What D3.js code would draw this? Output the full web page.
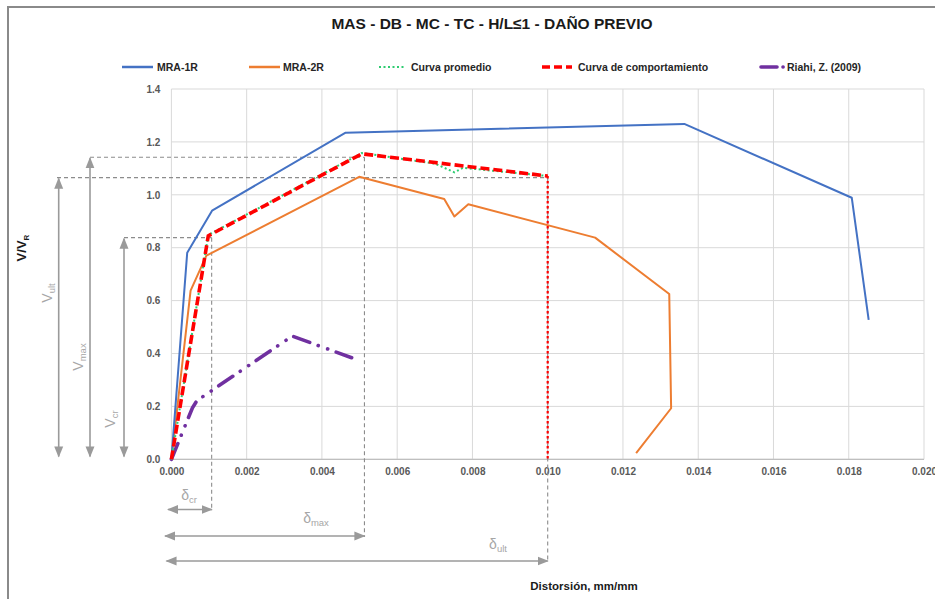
<!DOCTYPE html>
<html><head><meta charset="utf-8">
<script src="https://cdn.jsdelivr.net/npm/d3@7"></script>
<style>body{margin:0;background:#fff}svg{display:block;font-family:"Liberation Sans",Arial,sans-serif}</style>
</head><body><svg id="c" width="935" height="599"></svg>
<script>
const title = "MAS - DB - MC - TC - H/L≤1 - DAÑO PREVIO";
const xTicks = [0,0.002,0.004,0.006,0.008,0.010,0.012,0.014,0.016,0.018,0.020];
const yTicks = [0,0.2,0.4,0.6,0.8,1.0,1.2,1.4];

const mra1rX = [0, 0.00042, 0.00108, 0.00463, 0.01363, 0.01808, 0.01853];
const mra1rY = [0, 0.781, 0.940, 1.235, 1.268, 0.989, 0.527];

const mra2rX = [0, 0.00051, 0.00093, 0.00499, 0.00725, 0.00752, 0.00789, 0.01126, 0.01323, 0.01328, 0.01235];
const mra2rY = [0, 0.638, 0.770, 1.068, 0.984, 0.918, 0.964, 0.838, 0.625, 0.193, 0.023];

const promedioX = [0, 0.00098, 0.00506, 0.0070, 0.00752, 0.00775, 0.0100];
const promedioY = [0, 0.848, 1.158, 1.118, 1.085, 1.102, 1.071];

const comportX = [0, 0.00098, 0.00506, 0.0100, 0.0100];
const comportY = [0, 0.845, 1.155, 1.071, 0];

const riahiX = [0, 0.00056, 0.00068, 0.00321, 0.00479];
const riahiY = [0, 0.195, 0.222, 0.466, 0.384];

// characteristic points (annotations)
const vCr = 0.838, vMax = 1.142, vUlt = 1.065;
const dCr = 0.00107, dMax = 0.00513, dUlt = 0.0100;

const seriesNames = ["MRA-1R","MRA-2R","Curva promedio","Curva de comportamiento","Riahi, Z. (2009)"];

const svg = d3.select("#c");
const L = 171.4, R = 924, T = 89, B = 459.3;
const x = d3.scaleLinear().domain([0,0.020]).range([L,R]);
const y = d3.scaleLinear().domain([0,1.4]).range([B,T]);

// chart border
svg.append("rect").attr("x",8).attr("y",7).attr("width",940).attr("height",600)
  .attr("fill","none").attr("stroke","#8a8a8a").attr("stroke-width",2);

// title
svg.append("text").attr("x",492).attr("y",29).attr("text-anchor","middle")
  .attr("font-size",15.5).attr("font-weight","bold").attr("fill","#1a1a1a").text(title);

// grid
const g = svg.append("g");
g.selectAll(".vg").data(xTicks).join("line").attr("x1",d=>x(d)).attr("x2",d=>x(d))
  .attr("y1",T).attr("y2",B).attr("stroke","#d9d9d9").attr("stroke-width",1);
g.selectAll(".hg").data(yTicks).join("line").attr("x1",L).attr("x2",R)
  .attr("y1",d=>y(d)).attr("y2",d=>y(d)).attr("stroke","#d9d9d9").attr("stroke-width",1);
g.append("line").attr("x1",L).attr("x2",R).attr("y1",B).attr("y2",B).attr("stroke","#bfbfbf").attr("stroke-width",1.2);

// axes labels via d3 axes
const xa = d3.axisBottom(x).tickValues(xTicks).tickFormat(d3.format(".3f")).tickSize(0).tickPadding(9);
const ya = d3.axisLeft(y).tickValues(yTicks).tickFormat(d3.format(".1f")).tickSize(0).tickPadding(11);
const gx = svg.append("g").attr("transform",`translate(0,${B})`).call(xa);
const gy = svg.append("g").attr("transform",`translate(${L},0)`).call(ya);
[gx,gy].forEach(a=>{a.select(".domain").remove();
  a.selectAll("text").attr("font-size",10).attr("font-weight","bold").attr("fill","#595959")
   .attr("font-family","'Liberation Sans',Arial,sans-serif");});

// axis titles
svg.append("text").attr("x",584).attr("y",590).attr("text-anchor","middle")
  .attr("font-size",11.5).attr("font-weight","bold").attr("fill","#1a1a1a").text("Distorsión, mm/mm");
const yt = svg.append("text").attr("transform","translate(26,248) rotate(-90)").attr("text-anchor","middle")
  .attr("font-size",13).attr("font-weight","bold").attr("fill","#1a1a1a");
yt.append("tspan").text("V/V");
yt.append("tspan").attr("font-size",8).attr("dy",3).text("R");

// annotations
const ann = svg.append("g");
const grey = "#9a9a9a";
svg.append("defs").append("marker").attr("id","ah").attr("viewBox","0 0 10 10").attr("refX",9).attr("refY",5)
  .attr("markerWidth",7).attr("markerHeight",7).attr("orient","auto-start-reverse")
  .append("path").attr("d","M0,1 L10,5 L0,9 Z").attr("fill",grey);
const dash = "4,3";
// horizontal dashed guides
[[vMax,90],[vUlt,57],[vCr,124]].forEach(([v,x0],i)=>{
  const xe = i===0? x(dMax) : i===1? x(dUlt) : x(dCr);
  ann.append("line").attr("x1",x0).attr("x2",xe).attr("y1",y(v)).attr("y2",y(v))
    .attr("stroke","#8c8c8c").attr("stroke-width",1.1).attr("stroke-dasharray",dash);
});
// vertical dashed guides
[[dCr,vCr,511],[dMax,vMax,537],[dUlt,vUlt,562]].forEach(([d,v,ye])=>{
  ann.append("line").attr("x1",x(d)).attr("x2",x(d)).attr("y1",y(v)).attr("y2",ye)
    .attr("stroke","#8c8c8c").attr("stroke-width",1.1).attr("stroke-dasharray",dash);
});
// vertical arrows
[[vUlt,58.7],[vMax,90],[vCr,124]].forEach(([v,xx])=>{
  ann.append("line").attr("x1",xx).attr("x2",xx).attr("y1",y(v)+1).attr("y2",456.5)
    .attr("stroke",grey).attr("stroke-width",1.6)
    .attr("marker-start","url(#ah)").attr("marker-end","url(#ah)");
});
// horizontal arrows
[[dCr,509.5,168],[dMax,536,165],[dUlt,561,166.5]].forEach(([d,yy,x0])=>{
  ann.append("line").attr("x1",x0).attr("x2",x(d)).attr("y1",yy).attr("y2",yy)
    .attr("stroke",grey).attr("stroke-width",1.6)
    .attr("marker-start","url(#ah)").attr("marker-end","url(#ah)");
});
function lab(tx, main, sub, rot){
  const t = ann.append("text").attr("transform",tx).attr("text-anchor","middle")
    .attr("fill","#a6a6a6").attr("font-size",14);
  t.append("tspan").text(main);
  t.append("tspan").attr("font-size",9.5).attr("dy",3).text(sub);
}
lab("translate(52,293) rotate(-90)","V","ult");
lab("translate(83,357) rotate(-90)","V","max");
lab("translate(115,419) rotate(-90)","V","cr");
lab("translate(189,500)","δ","cr");
lab("translate(316,523)","δ","max");
lab("translate(498,549)","δ","ult");

// series
const line = d3.line().x(d=>x(d[0])).y(d=>y(d[1]));
const zip = (a,b)=>a.map((v,i)=>[v,b[i]]);
const plot = svg.append("g");
const riahiDash = "17,9,0.1,10,0.1,9";
plot.append("path").datum(zip(riahiX,riahiY)).attr("d",line).attr("fill","none")
  .attr("stroke","#7030A0").attr("stroke-width",3.6).attr("stroke-linecap","round").attr("stroke-dasharray",riahiDash);
plot.append("path").datum(zip(mra2rX,mra2rY)).attr("d",line).attr("fill","none")
  .attr("stroke","#ED7D31").attr("stroke-width",2).attr("stroke-linejoin","round");
plot.append("path").datum(zip(mra1rX,mra1rY)).attr("d",line).attr("fill","none")
  .attr("stroke","#4472C4").attr("stroke-width",2).attr("stroke-linejoin","round");
plot.append("path").datum(zip(promedioX,promedioY)).attr("d",line).attr("fill","none")
  .attr("stroke","#2ecc71").attr("stroke-width",2).attr("stroke-dasharray","2,2.5");
const cp = zip(comportX,comportY);
plot.append("path").datum(cp.slice(0,cp.length-1)).attr("d",line).attr("fill","none")
  .attr("stroke","#FF0000").attr("stroke-width",3.6).attr("stroke-dasharray","9,4");
plot.append("path").datum(cp.slice(cp.length-2)).attr("d",line).attr("fill","none")
  .attr("stroke","#FF0000").attr("stroke-width",2.2).attr("stroke-dasharray","2.5,2.5");

// legend
const leg = svg.append("g");
const legX = [122, 249, 379, 542, 761];
const legTextX = [157, 283, 411, 578, 787];
const styles = [
  {c:"#4472C4",w:2.5,d:null,len:31},
  {c:"#ED7D31",w:2.5,d:null,len:31},
  {c:"#2ecc71",w:2,d:"2,2.5",len:27},
  {c:"#FF0000",w:3.6,d:"8,4",len:30},
  {c:"#7030A0",w:3.6,d:"16,6,0.1,20",len:23}
];
seriesNames.forEach((n,i)=>{
  const s = styles[i];
  leg.append("line").attr("x1",legX[i]).attr("x2",legX[i]+s.len).attr("y1",67).attr("y2",67)
    .attr("stroke",s.c).attr("stroke-width",s.w).attr("stroke-dasharray",s.d)
    .attr("stroke-linecap", i===4?"round":"butt");
  leg.append("text").attr("x",legTextX[i]).attr("y",71).attr("font-size",10.5).attr("font-weight","bold")
    .attr("fill","#262626").text(n);
});
</script></body></html>
